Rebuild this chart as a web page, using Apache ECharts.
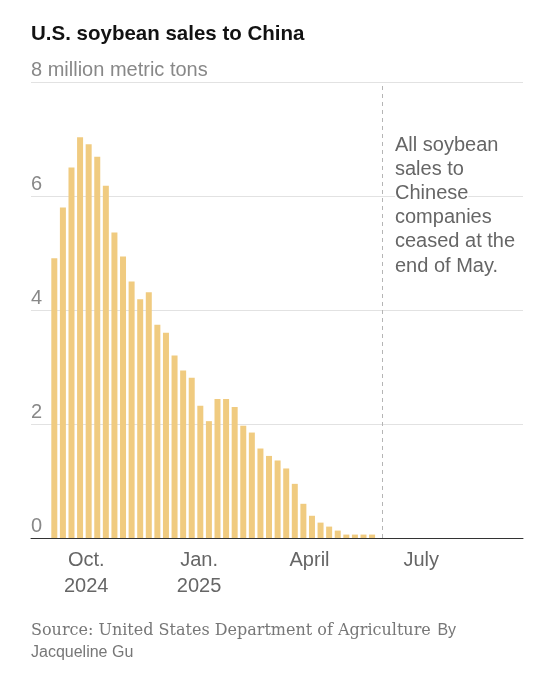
<!DOCTYPE html>
<html>
<head>
<meta charset="utf-8">
<script src="https://cdn.jsdelivr.net/npm/echarts@6/dist/echarts.min.js"></script>
<style>
  html, body { margin: 0; padding: 0; background: #fff; }
  #main { width: 554px; height: 680px; }
</style>
</head>
<body>
<div id="main"></div>
<script>
// weekly US soybean sales to China (million metric tons), week ending Thursday
var weeks = [
  '2024-09-05', '2024-09-12', '2024-09-19', '2024-09-26',
  '2024-10-03', '2024-10-10', '2024-10-17', '2024-10-24', '2024-10-31',
  '2024-11-07', '2024-11-14', '2024-11-21', '2024-11-28',
  '2024-12-05', '2024-12-12', '2024-12-19', '2024-12-26',
  '2025-01-02', '2025-01-09', '2025-01-16', '2025-01-23', '2025-01-30',
  '2025-02-06', '2025-02-13', '2025-02-20', '2025-02-27',
  '2025-03-06', '2025-03-13', '2025-03-20', '2025-03-27',
  '2025-04-03', '2025-04-10', '2025-04-17', '2025-04-24',
  '2025-05-01', '2025-05-08', '2025-05-15', '2025-05-22'
];
var sales = [
  4.91, 5.80, 6.50, 7.03,
  6.91, 6.69, 6.18, 5.36, 4.94,
  4.50, 4.19, 4.31, 3.74,
  3.60, 3.20, 2.94, 2.81,
  2.32, 2.05, 2.44, 2.44, 2.30,
  1.97, 1.85, 1.57, 1.44,
  1.36, 1.22, 0.95, 0.60,
  0.39, 0.27, 0.20, 0.13,
  0.06, 0.06, 0.06, 0.06
];
var xTickDates = ['2024-10-01', '2025-01-01', '2025-04-01', '2025-07-01'];
var xTickLabels = ['Oct.\n2024', 'Jan.\n2025', 'April', 'July'];
var yTicks = [0, 2, 4, 6, 8];
var cutoffDate = '2025-05-30';
var axisStart = '2024-08-17';
var axisEnd = '2025-09-22';

// days since axisStart, so the x axis can be a plain value axis
function toDay(s) {
  var p = s.split('-');
  var q = axisStart.split('-');
  return Math.round((Date.UTC(+p[0], +p[1] - 1, +p[2]) - Date.UTC(+q[0], +q[1] - 1, +q[2])) / 86400000);
}

var myChart = echarts.init(document.getElementById('main'));

var barData = [];
for (let i in weeks) {
  barData.push([toDay(weeks[i]), sales[i]]);
}
var tickDays = xTickDates.map(toDay);

myChart.setOption({
  animation: false,
  title: {
    text: 'U.S. soybean sales to China',
    left: 31,
    top: 24,
    padding: 0,
    textStyle: {
      fontFamily: 'Liberation Sans',
      fontWeight: 'bold',
      fontSize: 20.5,
      color: '#121212'
    }
  },
  grid: {
    left: 31,
    right: 31,
    top: 82,
    bottom: 142,
    containLabel: false
  },
  xAxis: {
    type: 'value',
    min: 0,
    max: toDay(axisEnd),
    axisLine: { show: true, lineStyle: { color: '#333', width: 1 } },
    axisTick: { show: false },
    splitLine: { show: false },
    axisLabel: {
      customValues: tickDays,
      margin: 9,
      fontFamily: 'Liberation Sans',
      fontSize: 20,
      lineHeight: 26,
      color: '#666',
      formatter: function (val) {
        var i = tickDays.indexOf(val);
        return i >= 0 ? xTickLabels[i] : '';
      }
    }
  },
  yAxis: {
    type: 'value',
    min: 0,
    max: 8,
    interval: 2,
    axisLine: { show: false },
    axisTick: { show: false },
    splitLine: { show: true, lineStyle: { color: '#e2e2e2', width: 1 } },
    axisLabel: {
      inside: true,
      margin: 0,
      align: 'left',
      verticalAlign: 'bottom',
      padding: [0, 0, 2, 0],
      fontFamily: 'Liberation Sans',
      fontSize: 20,
      color: '#888',
      formatter: function (v) {
        return v === yTicks[yTicks.length - 1] ? v + ' million metric tons' : '' + v;
      }
    }
  },
  series: [{
    type: 'bar',
    data: barData,
    barWidth: 6,
    itemStyle: { color: '#F0CB80' },
    z: 2,
    markLine: {
      silent: true,
      symbol: 'none',
      label: { show: false },
      lineStyle: { color: '#b5b5b5', type: [4, 4], width: 1 },
      data: [{ xAxis: toDay(cutoffDate) }]
    }
  }],
  graphic: [
    {
      type: 'text',
      left: 395,
      top: 135,
      z: 10,
      style: {
        text: '{w|All soybean}\n{w|sales to}\n{w|Chinese}\n{w|companies}\n{w|ceased at the}\n{w|end of May.}',
        rich: {
          w: {
            fontFamily: 'Liberation Sans',
            fontSize: 20,
            lineHeight: 24.2,
            fill: '#666',
            backgroundColor: '#fff'
          }
        }
      }
    },
    {
      type: 'text',
      left: 31,
      top: 623,
      style: {
        text: '{s|Source: United States Department of Agriculture}  {b|By}\n{b|Jacqueline Gu}',
        rich: {
          s: {
            fontFamily: 'DejaVu Serif',
            fontSize: 16,
            lineHeight: 22,
            fill: '#777'
          },
          b: {
            fontFamily: 'Liberation Sans',
            fontSize: 16,
            lineHeight: 22,
            fill: '#777'
          }
        }
      }
    }
  ]
});
</script>
</body>
</html>
